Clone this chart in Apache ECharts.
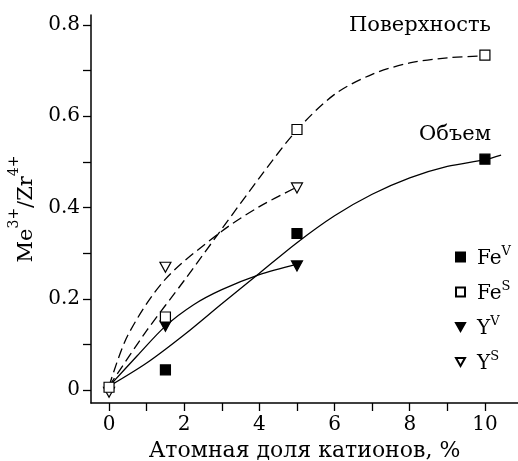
<!DOCTYPE html>
<html>
<head>
<meta charset="utf-8">
<script src="https://cdn.jsdelivr.net/npm/echarts@6/dist/echarts.min.js"></script>
<style>
  html, body { margin: 0; padding: 0; background: #fff; }
  #chart { width: 518px; height: 461px; }
</style>
</head>
<body>
<div id="chart"></div>
<script>
// Measured ratios Me3+/Zr4+ vs cation fraction, %
const feBulk = [[1.5, 0.044], [5, 0.343], [10, 0.506]];
const feSurf = [[0, 0.006], [1.5, 0.160], [5, 0.571], [10, 0.734]];
const yBulk = [[1.5, 0.140], [5, 0.272]];
const ySurf = [[0, -0.005], [1.5, 0.269], [5, 0.443]];

// Guide curves through the data sets
const feBulkCurve = [[0, 0.008], [1, 0.059], [2, 0.121], [3, 0.189], [4, 0.256], [5, 0.323], [6, 0.382],
  [7, 0.429], [8, 0.465], [9, 0.490], [10, 0.505], [10.43, 0.515]];
const yBulkCurve = [[0, 0.008], [0.75, 0.075], [1.5, 0.140], [2.25, 0.187], [3, 0.220], [4, 0.253], [5, 0.276]];
const feSurfCurve = [[0, 0.008], [1, 0.130], [2, 0.240], [3, 0.353], [4, 0.465], [5, 0.570], [6, 0.648],
  [7, 0.692], [8, 0.717], [9, 0.728], [10, 0.733], [10.1, 0.734]];
const ySurfCurve = [[0, 0.008], [0.5, 0.120], [1.5, 0.243], [3, 0.348], [4, 0.402], [5, 0.445]];

// Axis ticks and labels
const xLabels = [0, 2, 4, 6, 8, 10];
const xTicks = [0, 1, 2, 3, 4, 5, 6, 7, 8, 9, 10];
const yLabels = [0, 0.2, 0.4, 0.6, 0.8];
const yTicks = [0, 0.1, 0.2, 0.3, 0.4, 0.5, 0.6, 0.7, 0.8];

const FONT = '"DejaVu Serif", "Liberation Serif", serif';
const INK = '#000';
const DOWN_TRI = 'path://M0,0 L10,0 L5,9 Z';

const chart = echarts.init(document.getElementById('chart'), null, { renderer: 'canvas' });

const curve = (data, dashed) => ({
  type: 'line', data, smooth: 0.3, symbol: 'none', silent: true, z: 2,
  lineStyle: { color: INK, width: 1.3, type: dashed ? [10, 5] : 'solid' }
});

const marks = (name, data, symbol, filled, z) => ({
  type: 'scatter', name, data, symbol, symbolSize: symbol === 'rect' ? 10 : [11, 10], z,
  itemStyle: { color: filled ? INK : '#fff', borderColor: INK, borderWidth: 1.2, opacity: 1 }
});

chart.setOption({
  animation: false,
  backgroundColor: '#fff',
  textStyle: { fontFamily: FONT, color: INK },
  grid: { left: 91, right: 0, top: 15, bottom: 58, containLabel: false, outerBoundsMode: 'none' },
  xAxis: {
    type: 'value', min: -0.48, max: 10.88,
    name: 'Атомная доля катионов, %', nameLocation: 'middle', nameGap: 36,
    nameTextStyle: { fontFamily: FONT, fontSize: 22, color: INK },
    axisLine: { onZero: false, lineStyle: { color: INK, width: 1.5 } },
    axisTick: { customValues: xTicks, length: 8, lineStyle: { color: INK, width: 1.3 } },
    axisLabel: { customValues: xLabels, margin: 12, fontFamily: FONT, fontSize: 20, color: INK },
    splitLine: { show: false }
  },
  yAxis: {
    type: 'value', min: -0.0285, max: 0.822,
    name: '{b|Me}{s|3+}{b|/Zr}{s|4+}', nameLocation: 'middle', nameGap: 50, nameRotate: 90,
    nameTextStyle: {
      rich: {
        b: { fontFamily: FONT, fontSize: 21, color: INK, lineHeight: 30, verticalAlign: 'bottom' },
        s: { fontFamily: FONT, fontSize: 14, color: INK, lineHeight: 30, verticalAlign: 'top' }
      }
    },
    axisLine: { show: true, onZero: false, lineStyle: { color: INK, width: 1.5 } },
    axisTick: { show: true, customValues: yTicks, length: 8, lineStyle: { color: INK, width: 1.3 } },
    axisLabel: { customValues: yLabels, margin: 11, fontFamily: FONT, fontSize: 20, color: INK },
    splitLine: { show: false }
  },
  legend: {
    orient: 'vertical', left: 450, top: 240, itemWidth: 9, itemHeight: 9, itemGap: 11,
    data: ['FeV', 'FeS', 'YV', 'YS'],
    formatter: n => '{b|' + n.slice(0, -1) + '}{s|' + n.slice(-1) + '}',
    textStyle: {
      rich: {
        b: { fontFamily: FONT, fontSize: 20, color: INK, lineHeight: 24, verticalAlign: 'bottom', padding: [0, 0, 0, 7] },
        s: { fontFamily: FONT, fontSize: 13, color: INK, lineHeight: 24, verticalAlign: 'top' }
      }
    }
  },
  graphic: [
    { type: 'text', right: 27, top: 15, style: { text: 'Поверхность', font: '21px ' + FONT, fill: INK } },
    { type: 'text', right: 27, top: 124, style: { text: 'Объем', font: '21px ' + FONT, fill: INK } }
  ],
  series: [
    curve(feBulkCurve, false),
    curve(yBulkCurve, false),
    curve(feSurfCurve, true),
    curve(ySurfCurve, true),
    marks('YS', ySurf, DOWN_TRI, false, 5),
    marks('FeV', feBulk, 'rect', true, 6),
    marks('YV', yBulk, DOWN_TRI, true, 7),
    marks('FeS', feSurf, 'rect', false, 8)
  ]
});
</script>
</body>
</html>
